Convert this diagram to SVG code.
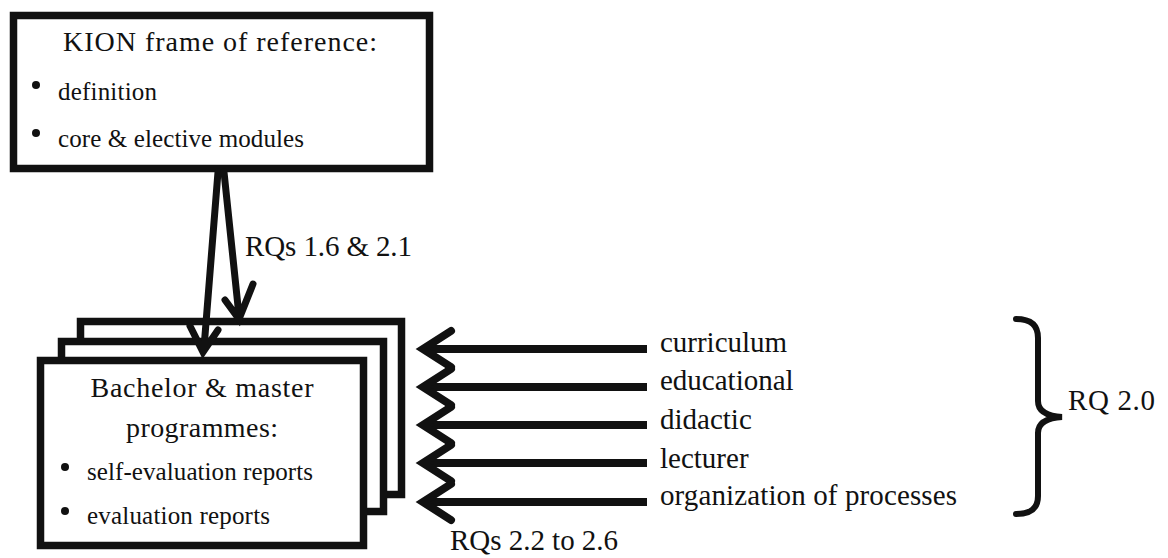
<svg xmlns="http://www.w3.org/2000/svg" width="1168" height="558" viewBox="0 0 1168 558">
<style>
  .box { fill: #fff; stroke: #111; stroke-width: 7.5; }
  .t { font-family: "Liberation Serif", "DejaVu Serif", "Times New Roman", Times, serif; fill: #111; }
  .title { font-size: 28px; }
  .item { font-size: 25px; }
  .lab { font-size: 29px; }
  .dot { fill: #111; }
  .ln { fill: none; stroke: #111; stroke-width: 8; }
  .head { fill: none; stroke: #111; stroke-width: 8; stroke-linecap: round; stroke-linejoin: miter; }
  .dn { fill: none; stroke: #111; stroke-width: 7; stroke-linecap: round; stroke-linejoin: miter; }
  .brace { fill: none; stroke: #111; stroke-width: 6; stroke-linecap: round; }
</style>
<defs>
  <path id="chev" d="M31,-18 L3,0 L31,18"/>
</defs>

<g id="kion">
  <rect class="box" x="13.5" y="15.5" width="416" height="153"/>
  <text class="t title" x="220" y="51" text-anchor="middle" textLength="314">KION frame of reference:</text>
  <circle class="dot" cx="36" cy="85" r="4"/>
  <text class="t item" x="58" y="100" textLength="99">definition</text>
  <circle class="dot" cx="36" cy="133" r="4"/>
  <text class="t item" x="58" y="147" textLength="246">core &amp; elective modules</text>
</g>

<g id="programmes">
  <rect class="box" x="80.5" y="321.5" width="321" height="173"/>
  <rect class="box" x="61.5" y="341.5" width="322" height="170"/>
  <rect class="box" x="40.5" y="360.5" width="323" height="185"/>
  <text class="t title" x="202" y="397" text-anchor="middle" textLength="223">Bachelor &amp; master</text>
  <text class="t title" x="202" y="437" text-anchor="middle" textLength="152">programmes:</text>
  <circle class="dot" cx="65" cy="467" r="4"/>
  <text class="t item" x="87" y="480" textLength="226">self-evaluation reports</text>
  <circle class="dot" cx="65" cy="511" r="4"/>
  <text class="t item" x="87" y="524" textLength="183">evaluation reports</text>
</g>

<g id="connectors">
  <path class="dn" d="M218,172 L204,348 M190,326 L203,352 L218,330"/>
  <path class="dn" d="M224,172 L239,316 M225,300 L239,319 L253,284"/>
  <g id="arrows-right">
    <path class="ln" d="M647,349 H428"/>
    <use href="#chev" class="head" x="420" y="349"/>
    <path class="ln" d="M647,387 H428"/>
    <use href="#chev" class="head" x="420" y="387"/>
    <path class="ln" d="M647,425 H428"/>
    <use href="#chev" class="head" x="420" y="425"/>
    <path class="ln" d="M647,463 H428"/>
    <use href="#chev" class="head" x="420" y="463"/>
    <path class="ln" d="M647,502 H428"/>
    <use href="#chev" class="head" x="420" y="502"/>
  </g>
</g>

<g id="labels">
  <text class="t lab" x="245" y="256" textLength="167">RQs 1.6 &amp; 2.1</text>
  <text class="t lab" x="660" y="352" textLength="127">curriculum</text>
  <text class="t lab" x="660" y="390">educational</text>
  <text class="t lab" x="660" y="429">didactic</text>
  <text class="t lab" x="660" y="468">lecturer</text>
  <text class="t lab" x="660" y="505" textLength="297">organization of processes</text>
  <text class="t lab" x="450" y="550" textLength="168">RQs 2.2 to 2.6</text>
</g>

<g id="rq20">
  <path class="brace" d="M1016,319 C1031,319 1038,325 1038,338 L1038,401 C1038,411 1046,416 1062,417 C1046,418 1038,423 1038,433 L1038,496 C1038,508 1031,514 1016,514"/>
  <text class="t lab" x="1068" y="410" textLength="87">RQ 2.0</text>
</g>
</svg>
